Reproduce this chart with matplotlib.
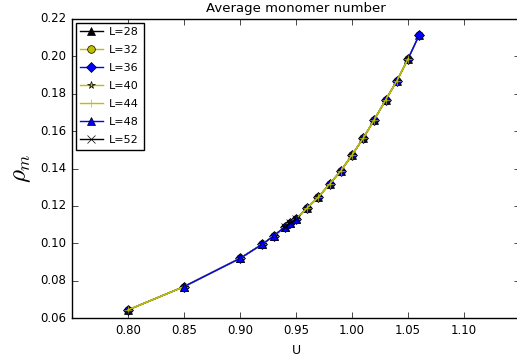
import matplotlib
matplotlib.use("Agg")
import matplotlib.pyplot as plt

plt.style.use("classic")

U_all = [0.80, 0.85, 0.90, 0.92, 0.93, 0.94, 0.945, 0.95, 0.96, 0.97, 0.98,
         0.99, 1.00, 1.01, 1.02, 1.03, 1.04, 1.05, 1.06]
rho_all = [0.0643, 0.0768, 0.0919, 0.0995, 0.1039, 0.1087, 0.1110, 0.1128,
           0.1189, 0.1247, 0.1317, 0.1387, 0.1472, 0.1562, 0.1662, 0.1767,
           0.1868, 0.1986, 0.2114]

labels = ["L=28", "L=32", "L=36", "L=40", "L=44", "L=48", "L=52"]
colors = ["k", "y", "b", "y", "y", "b", "k"]
markers = ["^", "o", "D", "*", "+", "^", "x"]
# index ranges (start, stop) into U_all for each series
ranges = [(0, 19), (0, 19), (0, 19), (0, 18), (0, 18), (1, 8), (5, 8)]

fig = plt.figure(figsize=(5.17, 3.58), dpi=100)
ax = fig.add_axes([72/517, 40/358, 448/517, 299/358])

for lab, c, m, (a, b) in zip(labels, colors, markers, ranges):
    ax.plot(U_all[a:b], rho_all[a:b], color=c, marker=m, markersize=5.5,
            linewidth=1, label=lab,
            markeredgecolor="k" if m not in ("+", "x") else c)

ax.set_xlim(0.75, 1.15)
ax.set_ylim(0.06, 0.22)
ax.set_xticks([0.80, 0.85, 0.90, 0.95, 1.00, 1.05, 1.10])
ax.set_yticks([0.06, 0.08, 0.10, 0.12, 0.14, 0.16, 0.18, 0.20, 0.22])
ax.tick_params(labelsize=8.5)
ax.set_xlabel("U", fontsize=9)
ax.set_ylabel(r"$\rho_m$", fontsize=18)
ax.set_title("Average monomer number", fontsize=9.5)
ax.legend(loc="upper left", fontsize=8, numpoints=1, handlelength=2.0,
          borderpad=0.4, labelspacing=0.72, handletextpad=0.6,
          borderaxespad=0.35)

fig.savefig("out.png", dpi=100)
